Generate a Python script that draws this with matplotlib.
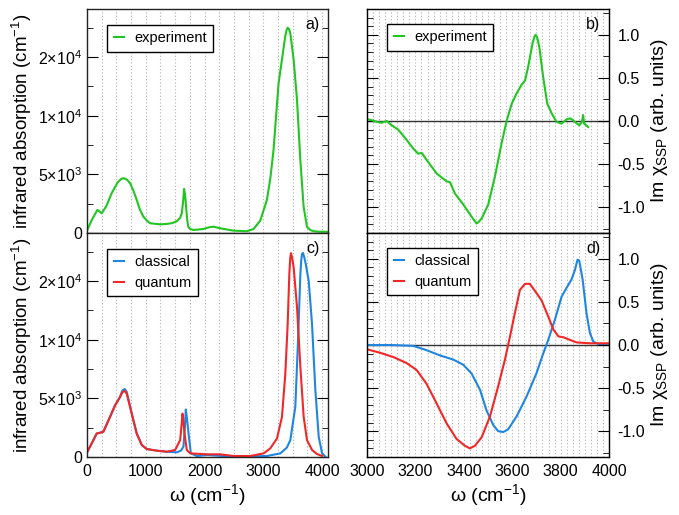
import numpy as np
import matplotlib
matplotlib.use("Agg")
import matplotlib.pyplot as plt
from matplotlib.ticker import MultipleLocator, FixedLocator, FormatStrFormatter

plt.rcParams["font.family"] = ["Liberation Sans", "DejaVu Sans"]
plt.rcParams["mathtext.fontset"] = "custom"
plt.rcParams["mathtext.rm"] = "Liberation Sans"
plt.rcParams["mathtext.it"] = "Liberation Sans:italic"
plt.rcParams["mathtext.bf"] = "Liberation Sans:bold"

# ---- data ----
# a) experiment IR absorption
exp_ir_w = [5, 80, 176, 250, 330, 420, 520, 580, 619, 680, 733, 790, 846, 900, 960, 1020,
            1073, 1244, 1357, 1450, 1527, 1585, 1613, 1635, 1652, 1670, 1686, 1705, 1726,
            1760, 1811, 1982, 2070, 2152, 2266, 2493, 2720, 2833, 2947, 3061, 3120, 3174,
            3220, 3260, 3317, 3373, 3395, 3413, 3435, 3458, 3515, 3572, 3629, 3685, 3742,
            3800, 3856, 3950, 4100]
exp_ir = [260, 1100, 1970, 1680, 2300, 3400, 4300, 4600, 4680, 4550, 4250, 3600, 2820,
          2000, 1390, 1050, 830, 740, 770, 850, 1000, 1300, 1690, 2700, 3760, 3200, 2200,
          1100, 490, 330, 260, 340, 480, 540, 400, 200, 150, 340, 1050, 2820, 4700, 7100,
          10200, 12800, 14800, 16800, 17300, 17500, 17400, 17070, 14800, 11400, 6240,
          2250, 540, 250, 150, 110, 100]

# b) experiment Im chi
exp_chi_w = [3001, 3019, 3040, 3061, 3081, 3102, 3129, 3164, 3191, 3212, 3226, 3246,
             3288, 3329, 3343, 3363, 3398, 3432, 3445, 3453, 3462, 3474, 3501, 3529, 3556,
             3577, 3598, 3618, 3639, 3653, 3666, 3684, 3692, 3697, 3703, 3712, 3728, 3745,
             3763, 3783, 3804, 3825, 3841, 3859, 3877, 3886, 3891, 3893, 3897, 3914]
exp_chi = [0.02, 0.01, -0.01, -0.02, 0.0, -0.05, -0.10, -0.22, -0.32, -0.38, -0.37, -0.45,
           -0.61, -0.70, -0.71, -0.84, -0.97, -1.11, -1.16, -1.19, -1.17, -1.13, -0.97,
           -0.64, -0.26, 0.0, 0.20, 0.32, 0.42, 0.47, 0.63, 0.90, 0.98, 1.0, 0.97, 0.86,
           0.51, 0.20, 0.09, -0.01, -0.03, 0.02, 0.03, -0.01, -0.05, -0.02, 0.03, 0.07,
           -0.03, -0.07]

# c) simulated IR absorption
cls_ir_w = [6, 80, 165, 220, 278, 392, 477, 562, 600, 640, 676, 761, 846, 932, 1017, 1187,
            1358, 1528, 1600, 1641, 1665, 1681, 1700, 1727, 1767, 1869, 2040, 2493,
            3061, 3289, 3400, 3459, 3544, 3590, 3630, 3645, 3658, 3675, 3698, 3720, 3772,
            3828, 3885, 3942, 3999, 4055]
cls_ir = [450, 1160, 2000, 2070, 2150, 3420, 4400, 5120, 5650, 5800, 5550, 3700, 2000,
          1020, 680, 540, 450, 400, 550, 880, 2500, 4050, 3300, 2000, 310, 85, 170, 30,
          85, 310, 800, 1440, 4270, 9930, 15600, 16800, 17300, 17400, 17000, 16500,
          15000, 11350, 5690, 1730, 310, 30]
qnt_ir_w = [6, 80, 165, 220, 278, 392, 477, 562, 600, 640, 676, 761, 846, 932, 1017, 1187,
            1358, 1500, 1585, 1610, 1625, 1640, 1659, 1698, 1755, 2040, 2266, 2493,
            2777, 3005, 3118, 3232, 3317, 3374, 3414, 3442, 3458, 3470, 3490, 3516, 3573,
            3630, 3686, 3743, 3828, 3914, 4000]
qnt_ir = [450, 1160, 2000, 2070, 2150, 3420, 4400, 5120, 5500, 5650, 5400, 3700, 2000,
          1020, 680, 540, 450, 600, 1440, 2800, 3700, 3100, 2000, 600, 310, 230, 230, 85,
          85, 310, 735, 1580, 3420, 7100, 11350, 15600, 17000, 17380, 17000, 16160,
          12760, 7670, 3420, 1440, 600, 250, 85]

# d) simulated Im chi
cls_chi_w = [3000, 3095, 3191, 3246, 3301, 3357, 3398, 3432, 3467, 3494, 3522, 3542,
             3563, 3583, 3618, 3659, 3700, 3728, 3749, 3776, 3804, 3824, 3845, 3859,
             3870, 3877, 3891, 3907, 3921, 3935, 3955, 4000]
cls_chi = [0.0, 0.0, -0.01, -0.06, -0.12, -0.17, -0.23, -0.33, -0.52, -0.76, -0.93, -1.00,
           -1.01, -0.98, -0.83, -0.60, -0.33, -0.10, 0.06, 0.29, 0.56, 0.66, 0.76, 0.87,
           0.99, 0.98, 0.76, 0.37, 0.14, 0.04, 0.01, 0.0]
qnt_chi_w = [3000, 3054, 3109, 3164, 3205, 3246, 3288, 3329, 3370, 3405, 3425, 3446,
             3474, 3508, 3542, 3570, 3591, 3611, 3632, 3653, 3673, 3701, 3721, 3749,
             3770, 3791, 3811, 3838, 3866, 3921, 4000]
qnt_chi = [-0.05, -0.09, -0.14, -0.21, -0.29, -0.45, -0.68, -0.91, -1.09, -1.17, -1.20,
           -1.17, -1.07, -0.83, -0.48, -0.17, 0.10, 0.37, 0.64, 0.71, 0.71, 0.60, 0.52,
           0.33, 0.18, 0.10, 0.09, 0.06, 0.03, 0.02, 0.02]

ir_ticks = [0, 5000, 10000, 15000]
ir_labels = ["0", r"5$\times$10$^3$", r"1$\times$10$^4$", r"2$\times$10$^4$"]
left_xticks = [0, 1000, 2000, 3000, 4000]
right_xticks = [3000, 3200, 3400, 3600, 3800, 4000]

GREEN = "#22c622"
BLUE = "#1f86e0"
RED = "#f02828"
FS_TICK = 11.5
FS_LAB = 13.5

fig = plt.figure(figsize=(6.79, 5.15), dpi=100)
W, H = 679, 515


def add_ax(x0, y0, x1, y1):
    return fig.add_axes([x0 / W, 1 - y1 / H, (x1 - x0) / W, (y1 - y0) / H])


ax_a = add_ax(87, 9, 328, 233)
ax_c = add_ax(87, 233, 328, 457)
ax_b = add_ax(367, 9, 609, 233)
ax_d = add_ax(367, 233, 609, 457)


def style_left(ax, tag, show_x):
    ax.set_xlim(0, 4100)
    ax.set_ylim(0, 19100)
    for v in np.arange(250, 4100, 250):
        ax.axvline(v, color="#b0b0b0", lw=0.8, ls=(0, (1, 2)), zorder=0)
    ax.yaxis.set_major_locator(FixedLocator(ir_ticks))
    ax.set_yticklabels(ir_labels)
    ax.yaxis.set_minor_locator(MultipleLocator(2500))
    ax.tick_params(axis="y", which="both", direction="in", left=True, right=True,
                   labelsize=FS_TICK)
    ax.tick_params(axis="y", which="major", length=8)
    ax.tick_params(axis="y", which="minor", length=4.5)
    ax.set_xticks(left_xticks)
    ax.tick_params(axis="x", length=0, labelsize=FS_TICK, labelbottom=show_x, pad=5)
    ax.set_ylabel(r"infrared absorption (cm$^{-1}$)", fontsize=FS_LAB, labelpad=3)
    ax.text(0.965, 0.93, tag, transform=ax.transAxes, ha="right", va="center",
            fontsize=FS_TICK)
    if show_x:
        ax.set_xlabel(r"ω (cm$^{-1}$)", fontsize=FS_LAB + 0.5, labelpad=2)


def style_right(ax, tag, show_x):
    ax.set_xlim(3000, 4000)
    ax.set_ylim(-1.3, 1.3)
    for v in np.arange(3025, 4000, 25):
        ax.axvline(v, color="#b0b0b0", lw=0.8, ls=(0, (1, 2)), zorder=0)
    ax.axhline(0, color="#333333", lw=1.0, zorder=1)
    ax.yaxis.set_major_locator(MultipleLocator(0.5))
    ax.yaxis.set_minor_locator(MultipleLocator(0.1))
    ax.tick_params(axis="y", which="both", direction="in", left=True, right=False,
                   labelleft=False)
    ax.tick_params(axis="y", which="major", length=8)
    ax.tick_params(axis="y", which="minor", length=4)
    ax.set_xticks(right_xticks)
    ax.tick_params(axis="x", length=0, labelsize=FS_TICK, labelbottom=show_x, pad=5)
    tw = ax.twinx()
    tw.set_ylim(-1.3, 1.3)
    tw.yaxis.set_major_locator(MultipleLocator(0.5))
    tw.yaxis.set_minor_locator(MultipleLocator(0.25))
    tw.yaxis.set_major_formatter(FormatStrFormatter("%.1f"))
    tw.tick_params(axis="y", which="both", direction="in", labelsize=FS_TICK)
    tw.tick_params(axis="y", which="major", length=8, pad=6)
    tw.tick_params(axis="y", which="minor", length=4.5)
    tw.set_ylabel(r"Im χ$_{\mathrm{SSP}}$ (arb. units)", fontsize=FS_LAB + 0.5,
                  labelpad=3)
    ax.text(0.965, 0.93, tag, transform=ax.transAxes, ha="right", va="center",
            fontsize=FS_TICK)
    if show_x:
        ax.set_xlabel(r"ω (cm$^{-1}$)", fontsize=FS_LAB + 0.5, labelpad=2)


style_left(ax_a, "a)", False)
style_left(ax_c, "c)", True)
style_right(ax_b, "b)", False)
style_right(ax_d, "d)", True)

ax_a.plot(exp_ir_w, exp_ir, color=GREEN, lw=1.5, label="experiment")
ax_c.plot(cls_ir_w, cls_ir, color=BLUE, lw=1.5, label="classical")
ax_c.plot(qnt_ir_w, qnt_ir, color=RED, lw=1.5, label="quantum")
ax_b.plot(exp_chi_w, exp_chi, color=GREEN, lw=1.5, label="experiment")
ax_d.plot(cls_chi_w, cls_chi, color=BLUE, lw=1.5, label="classical")
ax_d.plot(qnt_chi_w, qnt_chi, color=RED, lw=1.5, label="quantum")

leg_kw = dict(loc="upper left", frameon=True, fancybox=False, borderaxespad=0,
              handlelength=0.7, handletextpad=0.7, borderpad=0.45, labelspacing=0.45,
              fontsize=10.5, edgecolor="black", framealpha=1)
for ax in (ax_a, ax_c):
    leg = ax.legend(bbox_to_anchor=(0.083, 0.93), **leg_kw)
    leg.get_frame().set_linewidth(1.0)
for ax in (ax_b, ax_d):
    leg = ax.legend(bbox_to_anchor=(0.083, 0.935), **leg_kw)
    leg.get_frame().set_linewidth(1.0)

for ax in (ax_a, ax_b, ax_c, ax_d):
    for s in ax.spines.values():
        s.set_linewidth(1.0)
        s.set_color("#222222")

fig.savefig("out.png", dpi=100)
